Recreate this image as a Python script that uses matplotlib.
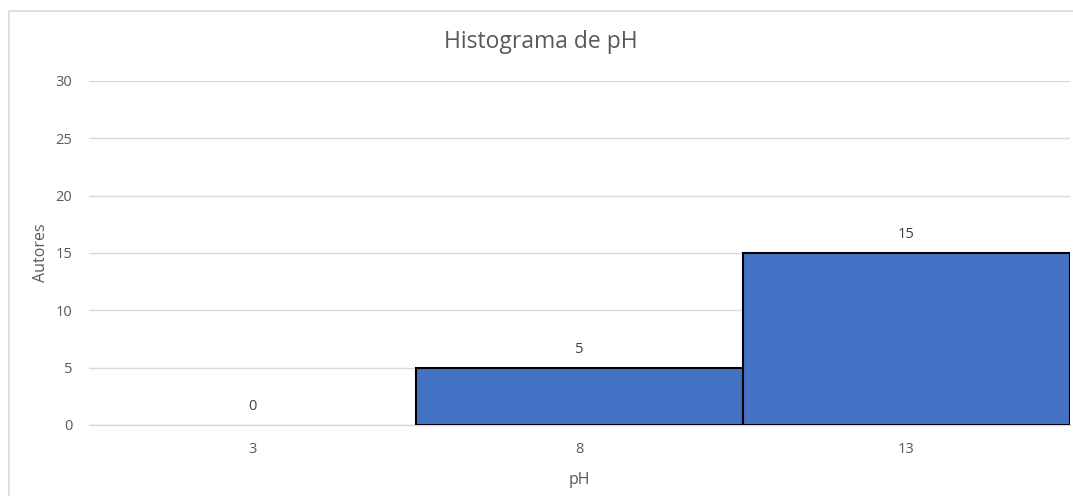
import matplotlib
matplotlib.use("Agg")
import matplotlib.pyplot as plt
from matplotlib.patches import Rectangle

categories = ["3", "8", "13"]
counts = [0, 5, 15]
y_ticks = [0, 5, 10, 15, 20, 25, 30]

plt.rcParams['font.family'] = ['Open Sans', 'DejaVu Sans']
text_color = "#595959"

W, H = 1073, 496
fig = plt.figure(figsize=(W / 100, H / 100), dpi=100)

# outer chart frame
fig.patches.append(Rectangle((9 / W, -0.1), 1.2, (H - 11) / H + 0.1,
                             transform=fig.transFigure, fill=False,
                             edgecolor="#d9d9d9", linewidth=1.2, zorder=0))

ax = fig.add_axes([89 / W, (H - 425) / H, (1070 - 89) / W, (425 - 81) / H])
x = list(range(len(categories)))
bars = ax.bar(x, counts, width=1.0, color="#4472c4", edgecolor="black",
              linewidth=1.5, zorder=3)
for b, v in zip(bars, counts):
    if v == 0:
        b.set_linewidth(0)
ax.set_xlim(-0.5, len(categories) - 0.5)
ax.set_ylim(0, 30)
ax.set_yticks(y_ticks)
ax.set_xticks(x)
ax.set_xticklabels(categories)
ax.tick_params(axis="both", length=0, colors=text_color, labelsize=10.5)
ax.tick_params(axis="y", pad=12)
ax.tick_params(axis="x", pad=12)
ax.yaxis.grid(True, color="#d9d9d9", linewidth=1, zorder=0)
ax.set_axisbelow(True)
for s in ["top", "right", "left"]:
    ax.spines[s].set_visible(False)
ax.spines["bottom"].set_color("#d9d9d9")
ax.spines["bottom"].set_linewidth(1)

for xi, v in zip(x, counts):
    ax.annotate(str(v), (xi, v), xytext=(0, 8), textcoords="offset points",
                ha="center", va="bottom", color="#404040", fontsize=10.5)

fig.text(541 / W, 1 - 42 / H, "Histograma de pH", color=text_color,
         fontsize=16.5, ha="center", va="center")
ax.set_xlabel("pH", color=text_color, fontsize=11.5, labelpad=11)
ax.set_ylabel("Autores", color=text_color, fontsize=11.5, labelpad=5)

fig.savefig("out.png", dpi=100)
